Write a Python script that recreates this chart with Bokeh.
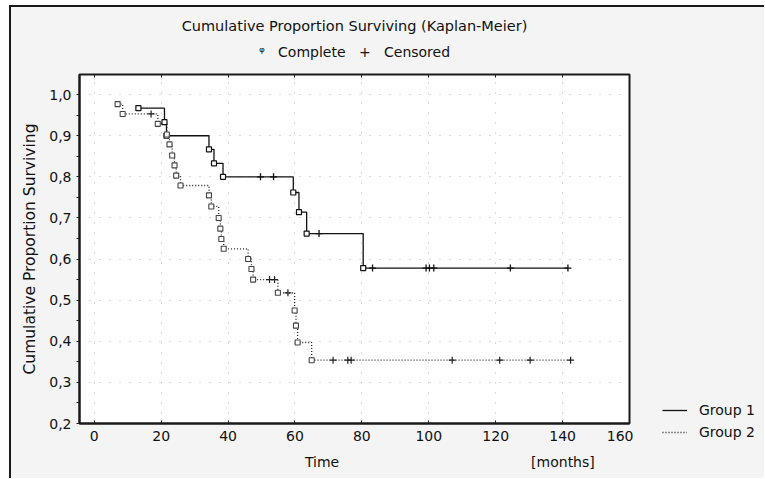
import numpy as np
from bokeh.plotting import figure
from bokeh.layouts import row, column
from bokeh.models import FixedTicker, Legend, LegendItem, LinearAxis, Title, Range1d, Spacer
from bokeh.embed import file_html
from bokeh.resources import INLINE

# ---------------- data ----------------
# Group 1 (solid line): complete events and survival after each event
g1_event_t = [13.2, 21.0, 21.6, 34.3, 35.8, 38.5, 59.5, 61.2, 63.5, 80.4]
g1_event_s = [0.967, 0.933, 0.900, 0.867, 0.833, 0.800, 0.762, 0.714, 0.662, 0.578]
g1_censor_t = [49.7, 53.6, 67.2, 83.2, 99.2, 100.2, 101.5, 124.4, 141.6]

# Group 2 (dotted line)
g2_event_t = [7.0, 8.5, 19.0, 21.7, 22.5, 23.3, 24.0, 24.5, 25.8, 34.3, 35.0, 37.2,
              37.7, 38.0, 38.7, 46.0, 47.0, 47.5, 54.9, 59.9, 60.3, 60.8, 65.0]
g2_event_s = [0.977, 0.953, 0.929, 0.903, 0.879, 0.852, 0.828, 0.803, 0.779, 0.755,
              0.728, 0.700, 0.674, 0.649, 0.625, 0.600, 0.576, 0.550, 0.518, 0.475,
              0.438, 0.397, 0.354]
g2_censor_t = [17.0, 52.4, 53.9, 57.9, 71.4, 75.8, 76.8, 107.0, 121.2, 130.3, 142.4]

series_names = ["Group 1", "Group 2"]

x_ticks = [0, 20, 40, 60, 80, 100, 120, 140, 160]
y_ticks = [0.2, 0.3, 0.4, 0.5, 0.6, 0.7, 0.8, 0.9, 1.0]
y_tick_labels = ["0,2", "0,3", "0,4", "0,5", "0,6", "0,7", "0,8", "0,9", "1,0"]

title_text = "Cumulative Proportion Surviving (Kaplan-Meier)"
NB = "\u00a0\u00a0\u00a0"
subtitle_text = "\u1d60" + NB + "Complete" + NB + "+" + NB + "Censored"
y_label_text = "Cumulative Proportion Surviving"
x_label_text = "Time"
x_unit_text = "[months]"
# where the two bottom captions sit along the time axis (layout positions)
x_caption_pos = [68.1, 140.1]

FONT = "DejaVu Sans"
INK = "#111111"
BG = "#f4f4f4"


def step_xy(ev_t, ev_s, cen_t):
    end = max(max(ev_t), max(cen_t))
    return list(ev_t) + [end], list(ev_s) + [ev_s[-1]]


def censor_levels(ev_t, ev_s, cen_t):
    idx = np.searchsorted(np.array(ev_t), np.array(cen_t), side="right") - 1
    return [ev_s[i] if i >= 0 else 1.0 for i in idx]


# ---------------- main plot ----------------
p = figure(width=622, height=471, x_range=(-4.4, 160), y_range=(0.2, 1.049),
           output_backend="svg", toolbar_location=None,
           min_border_left=68, min_border_right=4, min_border_top=67, min_border_bottom=55)
p.title.visible = False
p.background_fill_color = "white"
p.border_fill_color = BG
p.outline_line_color = "#1a1a1a"
p.outline_line_width = 2

for g in (p.xgrid, p.ygrid):
    g.grid_line_color = "#b4b4b4"
    g.grid_line_dash = "1 9"
    g.grid_line_width = 1
p.xgrid.ticker = FixedTicker(ticks=x_ticks)
p.ygrid.ticker = FixedTicker(ticks=y_ticks)

xa = p.xaxis[0]
xa.ticker = FixedTicker(ticks=x_ticks)
xa.major_tick_in = 3
xa.major_tick_out = 0
xa.minor_tick_line_color = None
xa.major_label_standoff = 7

ya = p.yaxis[0]
y_minor = [round((a + b) / 2, 3) for a, b in zip(y_ticks[:-1], y_ticks[1:])]
ya.ticker = FixedTicker(ticks=y_ticks, minor_ticks=y_minor)
ya.major_label_overrides = dict(zip(y_ticks, y_tick_labels))
ya.major_tick_in = 0
ya.major_tick_out = 3
ya.minor_tick_in = 0
ya.minor_tick_out = 3
ya.minor_tick_line_color = "#1a1a1a"
ya.major_label_standoff = 5
ya.axis_label = y_label_text
ya.axis_label_standoff = 7
ya.axis_label_text_font = FONT
ya.axis_label_text_font_size = "15.5px"
ya.axis_label_text_font_style = "normal"
ya.axis_label_text_color = INK

for ax in (xa, ya):
    ax.major_label_text_font = FONT
    ax.major_label_text_font_size = "14px"
    ax.major_label_text_color = INK
    ax.axis_line_color = "#1a1a1a"
    ax.axis_line_width = 2
    ax.major_tick_line_color = "#1a1a1a"

# top axis: inner tick marks only, carries the marker key as its caption
top = LinearAxis(ticker=FixedTicker(ticks=x_ticks))
top.major_tick_in = 3
top.major_tick_out = 0
top.minor_tick_line_color = None
top.major_tick_line_color = "#1a1a1a"
top.axis_line_color = None
top.major_label_text_color = None
top.major_label_text_font_size = "1px"
top.major_label_standoff = 0
top.axis_label = subtitle_text
top.axis_label_standoff = 15
top.axis_label_text_font = FONT
top.axis_label_text_font_size = "14px"
top.axis_label_text_font_style = "normal"
top.axis_label_text_color = INK
p.add_layout(top, "above")

p.add_layout(Title(text=title_text, align="center", vertical_align="bottom", standoff=14,
                   text_font=FONT, text_font_size="14.5px", text_font_style="normal",
                   text_color=INK), "above")

# bottom captions "Time" and "[months]"
cap = LinearAxis(ticker=FixedTicker(ticks=x_caption_pos),
                 major_label_overrides=dict(zip(x_caption_pos, [x_label_text, x_unit_text])))
cap.axis_line_color = None
cap.major_tick_line_color = None
cap.minor_tick_line_color = None
cap.major_label_standoff = 4
cap.major_label_text_font = FONT
cap.major_label_text_font_size = "14px"
cap.major_label_text_color = INK
if "major_label_background_fill_color" in cap.properties():
    cap.major_label_background_fill_color = "white"
p.add_layout(cap, "below")

# curves
g1x, g1y = step_xy(g1_event_t, g1_event_s, g1_censor_t)
g2x, g2y = step_xy(g2_event_t, g2_event_s, g2_censor_t)
G1_STYLE = dict(line_color="#111111", line_width=1.3)
G2_STYLE = dict(line_color="#222222", line_width=1.3, line_dash="1 2")

p.step(g1x, g1y, mode="after", **G1_STYLE)
p.step(g2x, g2y, mode="after", **G2_STYLE)

p.scatter(g1_censor_t, censor_levels(g1_event_t, g1_event_s, g1_censor_t),
          marker="cross", size=7, line_color="#111111", line_width=1.3)
p.scatter(g2_censor_t, censor_levels(g2_event_t, g2_event_s, g2_censor_t),
          marker="cross", size=7, line_color="#222222", line_width=1.2)
p.scatter(g1_event_t, g1_event_s, marker="square", size=5,
          fill_color="white", line_color="#111111", line_width=1.2)
p.scatter(g2_event_t, g2_event_s, marker="square", size=5,
          fill_color="white", line_color="#444444", line_width=1.1)

# ---------------- series legend (small panel at the lower right) ----------------
pl = figure(width=131, height=55, x_range=Range1d(0, 1), y_range=Range1d(0, 1),
            x_axis_type=None, y_axis_type=None, output_backend="svg",
            toolbar_location=None, min_border=0)
pl.title.visible = False
pl.grid.visible = False
pl.outline_line_color = None
pl.background_fill_color = BG
pl.border_fill_color = BG
# same series, drawn outside this panel's visible range: only their legend keys show
k1 = pl.step(g1x, g1y, mode="after", **G1_STYLE)
k2 = pl.step(g2x, g2y, mode="after", **G2_STYLE)
legend = Legend(items=[LegendItem(label=series_names[0], renderers=[k1]),
                       LegendItem(label=series_names[1], renderers=[k2])],
                location=(29, 8))
legend.background_fill_alpha = 0
legend.border_line_color = None
legend.padding = 0
legend.margin = 0
legend.spacing = 2
legend.glyph_width = 25
legend.glyph_height = 20
legend.label_height = 20
legend.label_standoff = 12
legend.label_text_font = FONT
legend.label_text_font_size = "14px"
legend.label_text_color = INK
pl.add_layout(legend)

side = column(Spacer(width=131, height=388), pl)
side.spacing = 0
side.styles = {"background-color": BG}

layout = row(p, side)
layout.spacing = 0
layout.styles = {"margin-left": "9px", "margin-top": "5px", "background-color": BG,
                 "border-left": "2px solid #1a1a1a", "border-top": "2px solid #1a1a1a"}

open("out.html", "w").write(file_html(layout, INLINE))
